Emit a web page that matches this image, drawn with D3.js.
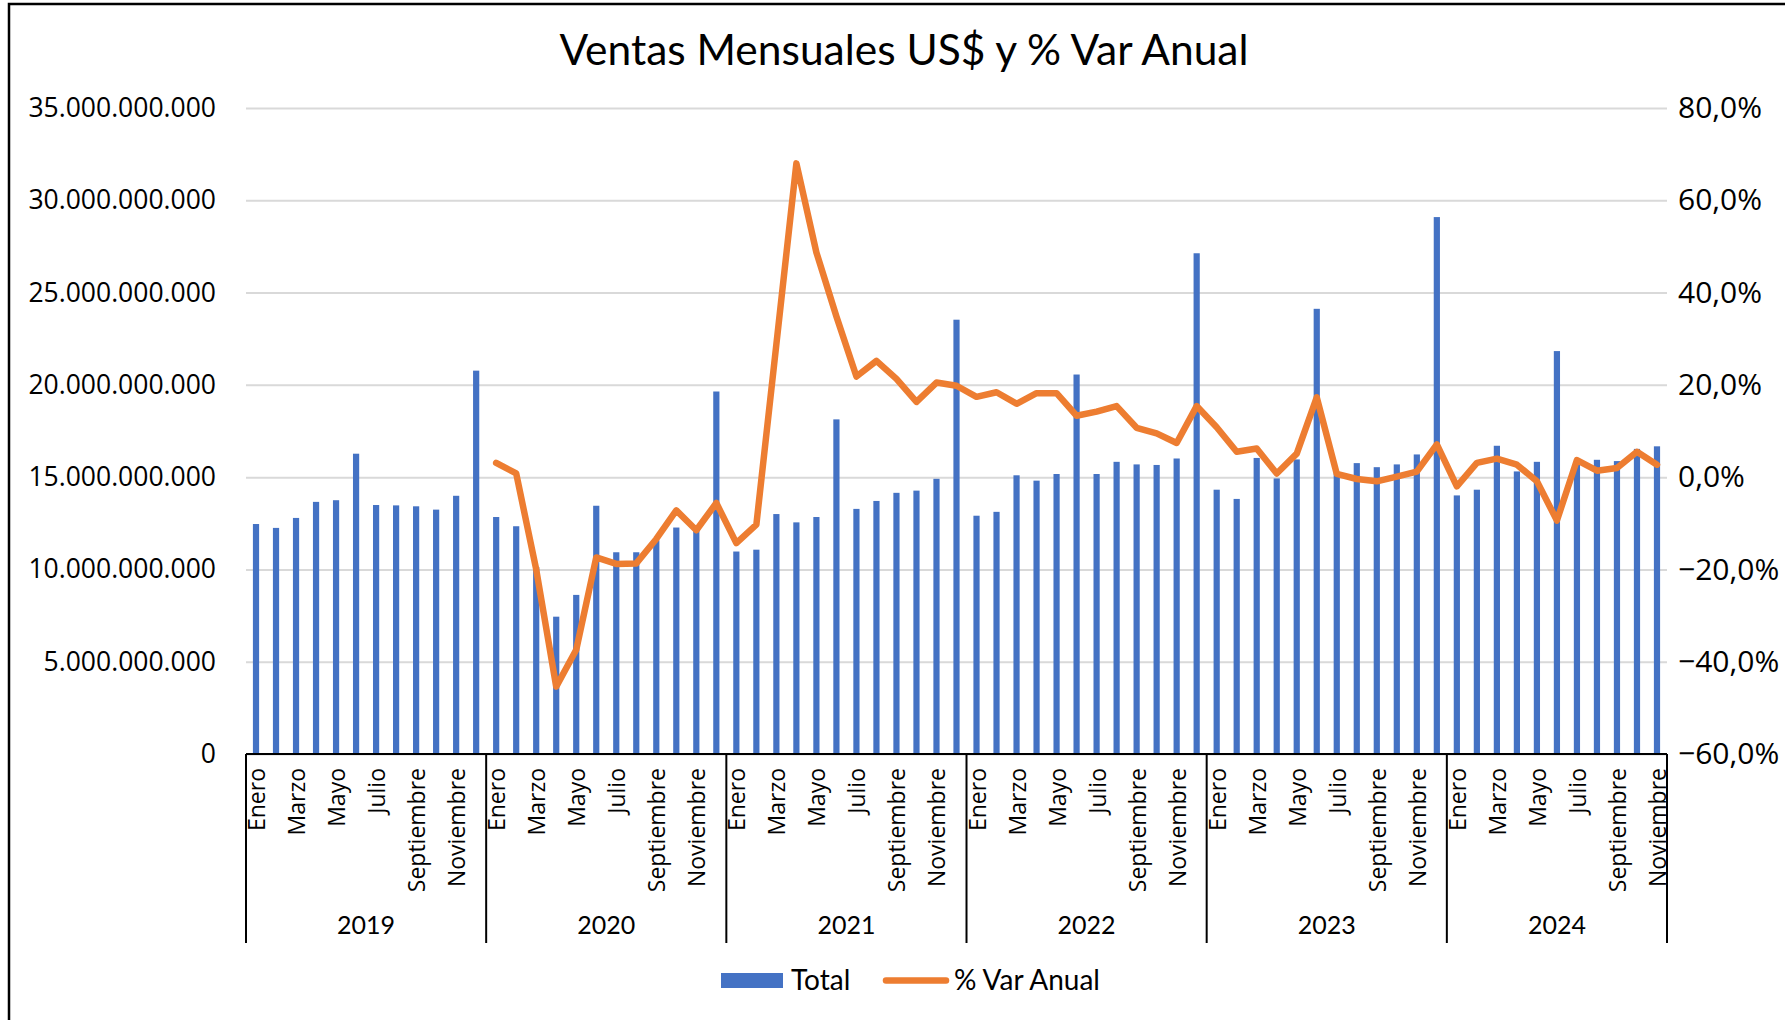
<!DOCTYPE html>
<html lang="es">
<head>
  <meta charset="UTF-8">
  <title>Ventas Mensuales</title>
  <script src="https://cdn.jsdelivr.net/npm/d3@7"></script>
  <style>
  html, body { margin: 0; padding: 0; background: #fff; }
  svg { display: block; }
  .tick-label { font-family: "Open Sans", sans-serif; font-size: 26.5px; fill: #000; }
  .tick-right { font-family: "Open Sans", sans-serif; font-size: 30px; fill: #000; }
  .month { font-family: "Open Sans", sans-serif; font-size: 23px; fill: #000; }
  .year { font-family: Lato, sans-serif; font-size: 25px; fill: #000; }
  .title { font-family: Lato, sans-serif; font-size: 42.5px; fill: #000; }
  .legend { font-family: Lato, sans-serif; font-size: 28px; fill: #000; }
  </style>
</head>
<body>
<div id="chart"></div>
<script>
// data
const years = ['2019', '2020', '2021', '2022', '2023', '2024'];
const months = ['Enero', 'Febrero', 'Marzo', 'Abril', 'Mayo', 'Junio',
  'Julio', 'Agosto', 'Septiembre', 'Octubre', 'Noviembre', 'Diciembre'];

// Total, miles de millones US$
const total2019 = [12.46, 12.25, 12.79, 13.66, 13.75, 16.27, 13.49, 13.47, 13.42, 13.24, 13.99, 20.77];
const total2020 = [12.84, 12.34, 10.13, 7.44, 8.62, 13.45, 10.93, 10.93, 11.58, 12.27, 12.3, 19.64];
const total2021 = [10.97, 11.07, 13.0, 12.55, 12.84, 18.13, 13.28, 13.71, 14.15, 14.27, 14.91, 23.53];
const total2022 = [12.91, 13.12, 15.10, 14.81, 15.17, 20.56, 15.17, 15.83, 15.69, 15.66, 16.01, 27.13];
const total2023 = [14.32, 13.82, 16.04, 14.93, 15.96, 24.12, 15.25, 15.76, 15.54, 15.69, 16.23, 29.09];
const total2024 = [14.01, 14.32, 16.70, 15.31, 15.83, 21.83, 15.82, 15.94, 15.87, 16.53, 16.67];

// % Var Anual
const var2019 = [null, null, null, null, null, null, null, null, null, null, null, null];
const var2020 = [3.1, 0.8, -20.0, -45.4, -37.4, -17.4, -18.8, -18.7, -13.4, -7.2, -11.5, -5.6];
const var2021 = [-14.3, -10.3, 28.8, 68.0, 48.7, 34.8, 21.8, 25.2, 21.3, 16.3, 20.5, 19.8];
const var2022 = [17.4, 18.4, 15.9, 18.2, 18.2, 13.3, 14.2, 15.4, 10.7, 9.5, 7.4, 15.4];
const var2023 = [10.8, 5.5, 6.2, 0.8, 5.1, 17.3, 0.7, -0.4, -0.9, 0.1, 1.2, 7.1];
const var2024 = [-2.0, 3.1, 4.0, 2.7, -0.9, -9.4, 3.7, 1.4, 2.0, 5.5, 2.7];

const leftTicks = [0, 5e9, 10e9, 15e9, 20e9, 25e9, 30e9, 35e9];
const rightTicks = [-60, -40, -20, 0, 20, 40, 60, 80];

const totals = [total2019, total2020, total2021, total2022, total2023, total2024];
const vars = [var2019, var2020, var2021, var2022, var2023, var2024];

const rows = [];
years.forEach((y, yi) => {
  totals[yi].forEach((t, mi) => {
    rows.push({ key: y + '-' + mi, year: y, month: months[mi], mi: mi,
      total: t * 1e9, pct: vars[yi][mi] });
  });
});

const W = 1785, H = 1020;
const x0 = 246, x1 = 1667, yTop = 108, yBot = 754;

const es = d3.formatLocale({ decimal: ',', thousands: '.', grouping: [3], currency: ['$', ''] });
const fmtLeft = es.format(',.0f');
const fmtRight = d => es.format('.1f')(d) + '%';

const x = d3.scaleBand().domain(rows.map(d => d.key)).range([x0, x1]).padding(0);
const yL = d3.scaleLinear().domain([0, 35e9]).range([yBot, yTop]);
const yR = d3.scaleLinear().domain([-60, 80]).range([yBot, yTop]);
const bw = x.bandwidth();

const svg = d3.select('#chart').append('svg').attr('width', W).attr('height', H);
svg.append('rect').attr('width', W).attr('height', H).attr('fill', '#fff');

// border
svg.append('path').attr('d', `M9,${H} V4 H${W}`)
  .attr('fill', 'none').attr('stroke', '#000').attr('stroke-width', 2.5);

svg.append('text').attr('class', 'title')
  .attr('x', 904).attr('y', 65).attr('text-anchor', 'middle')
  .text('Ventas Mensuales US$ y % Var Anual');

// left axis + gridlines
const gL = svg.append('g').attr('transform', `translate(${x0},0)`)
  .call(d3.axisLeft(yL).tickValues(leftTicks).tickFormat(fmtLeft)
    .tickSize(-(x1 - x0)).tickPadding(30));
gL.select('.domain').remove();
gL.selectAll('.tick line').attr('stroke', '#d9d9d9').attr('stroke-width', 2);
gL.selectAll('.tick text').attr('class', 'tick-label').attr('font-size', null).attr('font-family', null);

const gR = svg.append('g').attr('transform', `translate(${x1},0)`)
  .call(d3.axisRight(yR).tickValues(rightTicks).tickFormat(fmtRight)
    .tickSize(0).tickPadding(11));
gR.select('.domain').remove();
gR.selectAll('.tick text').attr('class', 'tick-right').attr('font-size', null).attr('font-family', null);

// bars
const barW = bw * 0.31;
svg.append('g').selectAll('rect').data(rows).join('rect')
  .attr('x', d => x(d.key) + (bw - barW) / 2)
  .attr('y', d => yL(d.total))
  .attr('width', barW)
  .attr('height', d => yBot - yL(d.total))
  .attr('fill', '#4472C4');

// category axis
svg.append('line').attr('x1', x0).attr('x2', x1).attr('y1', yBot).attr('y2', yBot)
  .attr('stroke', '#000').attr('stroke-width', 2);

const seps = years.map(y => x(y + '-0')).concat([x1]);
svg.append('g').selectAll('line').data(seps).join('line')
  .attr('x1', d => d).attr('x2', d => d)
  .attr('y1', yBot).attr('y2', 943)
  .attr('stroke', '#000').attr('stroke-width', 2);

svg.append('g').selectAll('text').data(rows.filter(d => d.mi % 2 === 0)).join('text')
  .attr('class', 'month')
  .attr('transform', d => `translate(${x(d.key) + bw / 2},${yBot + 14}) rotate(-90)`)
  .attr('text-anchor', 'end').attr('dominant-baseline', 'central')
  .text(d => d.month);

svg.append('g').selectAll('text').data(years).join('text')
  .attr('class', 'year')
  .attr('x', (d, i) => (seps[i] + seps[i + 1]) / 2).attr('y', 934)
  .attr('text-anchor', 'middle')
  .text(d => d);

// line
const line = d3.line()
  .defined(d => d.pct !== null)
  .x(d => x(d.key) + bw / 2)
  .y(d => yR(d.pct));
svg.append('path').datum(rows).attr('d', line)
  .attr('fill', 'none').attr('stroke', '#ED7D31').attr('stroke-width', 6.5)
  .attr('stroke-linejoin', 'round').attr('stroke-linecap', 'round');

// legend
const lg = svg.append('g');
lg.append('rect').attr('x', 721).attr('y', 973).attr('width', 62).attr('height', 15).attr('fill', '#4472C4');
lg.append('text').attr('class', 'legend').attr('x', 791).attr('y', 990).text('Total');
lg.append('line').attr('x1', 886).attr('x2', 946).attr('y1', 980.5).attr('y2', 980.5)
  .attr('stroke', '#ED7D31').attr('stroke-width', 6.5).attr('stroke-linecap', 'round');
lg.append('text').attr('class', 'legend').attr('x', 954).attr('y', 990).text('% Var Anual');
</script>
</body>
</html>
